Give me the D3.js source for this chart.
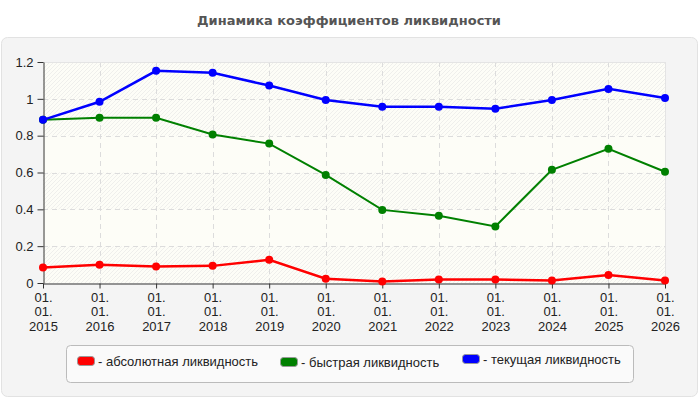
<!DOCTYPE html>
<html>
<head>
<meta charset="utf-8">
<script src="https://cdn.jsdelivr.net/npm/d3@7"></script>
<style>
  body { margin: 0; background: #fff; }
  svg { display: block; font-family: "Liberation Sans", Arial, sans-serif; }
</style>
</head>
<body>
<svg id="chart" width="700" height="400"></svg>
<script>
const years = ['2015', '2016', '2017', '2018', '2019', '2020', '2021', '2022', '2023', '2024', '2025', '2026']
const absoluteLiq = [0.084, 0.099, 0.090, 0.093, 0.126, 0.023, 0.008, 0.019, 0.019, 0.014, 0.044, 0.014]
const quickLiq = [0.886, 0.897, 0.897, 0.806, 0.757, 0.587, 0.397, 0.365, 0.307, 0.615, 0.729, 0.604]
const currentLiq = [0.886, 0.984, 1.152, 1.141, 1.072, 0.994, 0.957, 0.957, 0.946, 0.994, 1.054, 1.005]
const yTicks = [0, 0.2, 0.4, 0.6, 0.8, 1, 1.2]

const series = [
  { name: '- абсолютная ликвидность', color: '#ff0000', values: absoluteLiq, width: 2.5 },
  { name: '- быстрая ликвидность', color: '#008000', values: quickLiq, width: 2 },
  { name: '- текущая ликвидность', color: '#0000ff', values: currentLiq, width: 2.5 }
]

const svg = d3.select('#chart')
const plot = { left: 43, right: 665, top: 62, bottom: 283 }

// title
svg.append('text')
  .attr('x', 349).attr('y', 25)
  .attr('text-anchor', 'middle')
  .attr('font-size', 13).attr('font-weight', 'bold')
  .attr('font-family', '"DejaVu Sans", Verdana, sans-serif')
  .attr('fill', '#555')
  .text('Динамика коэффициентов ликвидности')

// panel
svg.append('rect')
  .attr('x', 1.5).attr('y', 37.5).attr('width', 696).attr('height', 359)
  .attr('rx', 6)
  .attr('fill', '#f4f4f4').attr('stroke', '#e2e2e2')

const defs = svg.append('defs')
const pat = defs.append('pattern')
  .attr('id', 'hatch').attr('patternUnits', 'userSpaceOnUse')
  .attr('width', 4).attr('height', 4)
pat.append('rect').attr('width', 4).attr('height', 4).attr('fill', '#fdfdf7')
pat.append('path').attr('d', 'M-1,1 l2,-2 M0,4 l4,-4 M3,5 l2,-2')
  .attr('stroke', '#efefec').attr('stroke-width', 1)

const x = d3.scalePoint().domain(years).range([plot.left, plot.right])
const y = d3.scaleLinear().domain([0, 1.2]).range([plot.bottom, plot.top])

// background bands
const g = svg.append('g')
g.append('rect')
  .attr('x', plot.left).attr('y', plot.top)
  .attr('width', plot.right - plot.left).attr('height', plot.bottom - plot.top)
  .attr('fill', '#fdfdf7')
const bands = [[0, 0.2], [0.4, 0.6], [0.8, 1.0], [1.0, 1.2]]
g.selectAll('.band').data(bands).join('rect')
  .attr('class', 'band')
  .attr('x', plot.left).attr('width', plot.right - plot.left)
  .attr('y', d => y(d[1])).attr('height', d => y(d[0]) - y(d[1]))
  .attr('fill', 'url(#hatch)')

// grid
g.selectAll('.hgrid').data(yTicks.filter(t => t > 0 && t < 1.2)).join('line')
  .attr('x1', plot.left).attr('x2', plot.right)
  .attr('y1', d => Math.round(y(d)) + 0.5).attr('y2', d => Math.round(y(d)) + 0.5)
  .attr('stroke', '#dcdcdc').attr('stroke-dasharray', '5,4')
g.selectAll('.vgrid').data(years.slice(1)).join('line')
  .attr('x1', d => Math.round(x(d)) + 0.5).attr('x2', d => Math.round(x(d)) + 0.5)
  .attr('y1', plot.top).attr('y2', plot.bottom)
  .attr('stroke', '#dcdcdc').attr('stroke-dasharray', '5,4')
g.append('line')
  .attr('x1', plot.left).attr('x2', plot.right)
  .attr('y1', plot.top + 0.5).attr('y2', plot.top + 0.5)
  .attr('stroke', '#e4e4e4')
g.append('line')
  .attr('x1', plot.right + 0.5).attr('x2', plot.right + 0.5)
  .attr('y1', plot.top).attr('y2', plot.bottom)
  .attr('stroke', '#e4e4e4')

// axes
const yAxis = svg.append('g')
  .attr('transform', `translate(${plot.left + 0.5},0)`)
  .call(d3.axisLeft(y).tickValues(yTicks).tickFormat(d => String(d)).tickSize(6).tickSizeOuter(0).tickPadding(4))
yAxis.select('.domain').attr('stroke', '#333')
yAxis.selectAll('.tick line').attr('stroke', '#333')
yAxis.selectAll('text').attr('font-size', 13).attr('fill', '#222')
  .attr('font-family', '"Liberation Sans", Arial, sans-serif')

const xAxis = svg.append('g')
  .attr('transform', `translate(0,${plot.bottom + 0.5})`)
  .call(d3.axisBottom(x).tickSize(5).tickSizeOuter(0).tickFormat(''))
xAxis.select('.domain').attr('stroke', '#333')
xAxis.selectAll('.tick line').attr('stroke', '#333')
xAxis.selectAll('.tick').each(function(d) {
  const t = d3.select(this).append('text')
    .attr('fill', '#222').attr('font-size', 13).attr('text-anchor', 'middle')
    .attr('font-family', '"Liberation Sans", Arial, sans-serif')
  ;['01.', '01.', d].forEach((s, i) => {
    t.append('tspan').attr('x', 0).attr('y', 18 + i * 14.5).text(s)
  })
})

// lines and markers
const line = d3.line().x((d, i) => x(years[i])).y(d => y(d))
series.forEach(s => {
  svg.append('path')
    .datum(s.values)
    .attr('d', line)
    .attr('fill', 'none')
    .attr('stroke', s.color)
    .attr('stroke-width', s.width)
  svg.append('g').selectAll('circle').data(s.values).join('circle')
    .attr('cx', (d, i) => x(years[i]))
    .attr('cy', d => y(d))
    .attr('r', 4)
    .attr('fill', s.color)
})

// legend
svg.append('rect')
  .attr('x', 66.5).attr('y', 345.5).attr('width', 567).attr('height', 37)
  .attr('rx', 4)
  .attr('fill', '#fafafa').attr('stroke', '#bbb')
const legendX = [77, 280, 462]
const legendY = [361, 362, 359]
series.forEach((s, i) => {
  const lg = svg.append('g').attr('transform', `translate(${legendX[i]},${legendY[i]})`)
  lg.append('rect')
    .attr('x', 0.5).attr('y', -4.5).attr('width', 17).attr('height', 9)
    .attr('rx', 3)
    .attr('fill', s.color).attr('stroke', '#999')
  lg.append('text')
    .attr('x', 21).attr('y', 4.5)
    .attr('font-size', 13).attr('fill', '#222')
    .text(s.name)
})
</script>
</body>
</html>
